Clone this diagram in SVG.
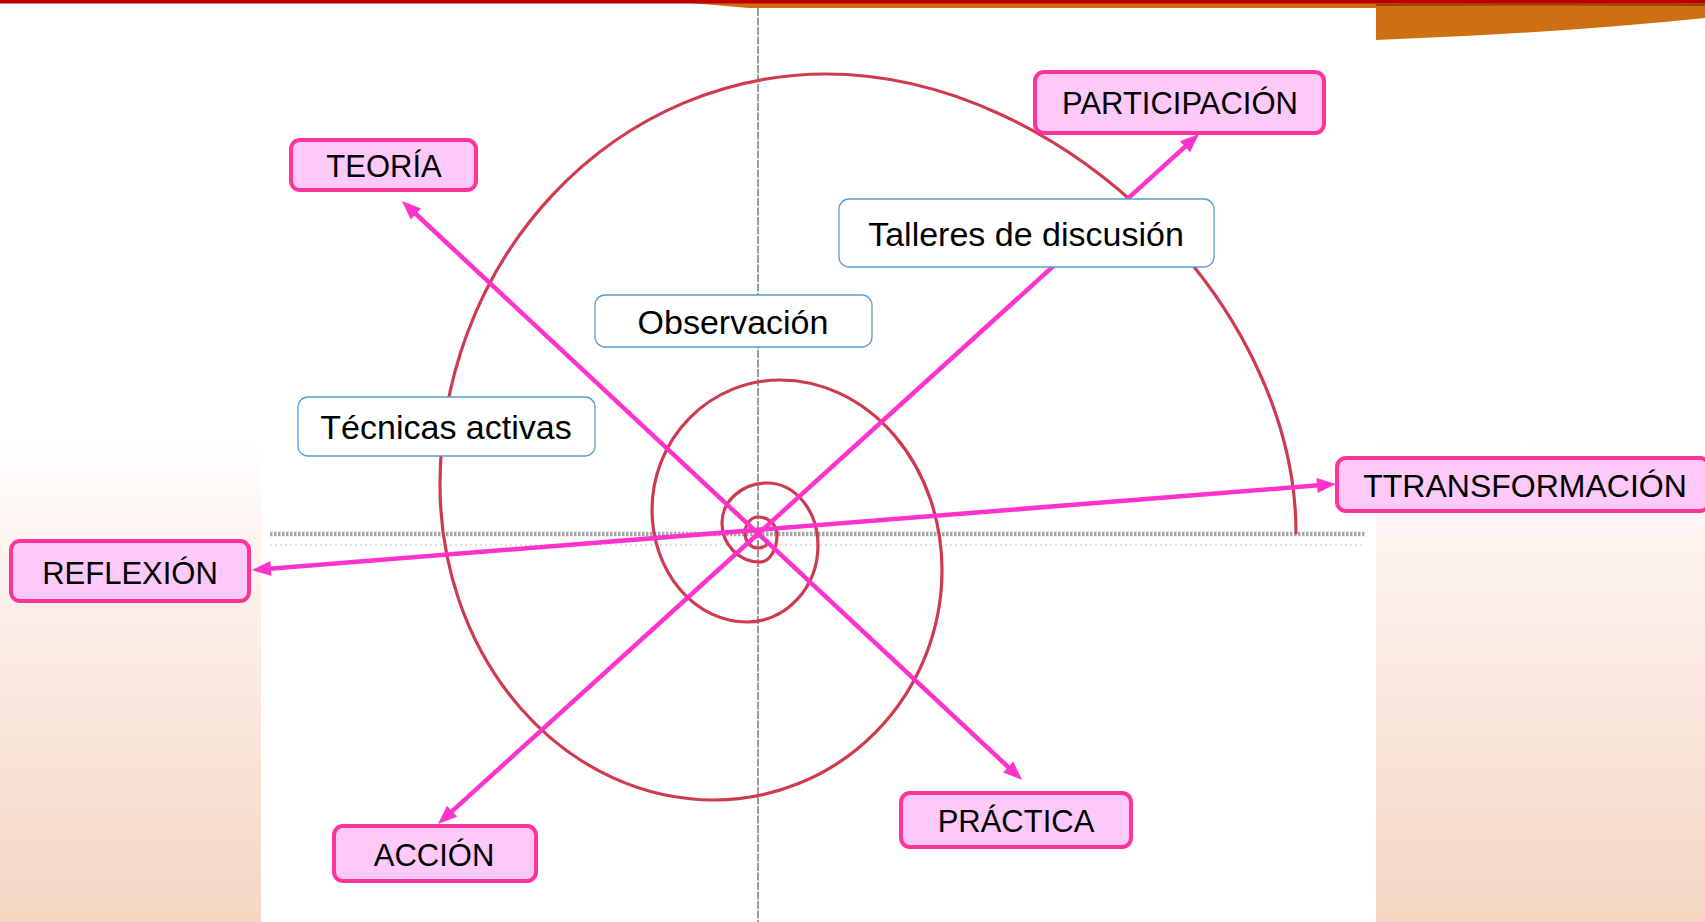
<svg xmlns="http://www.w3.org/2000/svg" width="1705" height="922" viewBox="0 0 1705 922">
<defs>
<linearGradient id="bg" x1="0" y1="0" x2="0" y2="1">
<stop offset="0" stop-color="#ffffff"/>
<stop offset="0.48" stop-color="#ffffff"/>
<stop offset="0.6" stop-color="#fdf3ee"/>
<stop offset="1" stop-color="#f5d6c4"/>
</linearGradient>
<marker id="ah" markerUnits="userSpaceOnUse" markerWidth="30" markerHeight="30" viewBox="-15 -15 30 30" refX="0" refY="0" orient="auto-start-reverse">
<path d="M8,0 L-11,-7.5 L-11,7.5 Z" fill="#ff33cc"/>
</marker>
<style>
.pk rect{fill:#fdc9f9;stroke:#ff3399;stroke-width:4}
.wb rect{fill:#ffffff;stroke:#5b9bd5;stroke-width:1.3}
text{font-family:"Liberation Sans",Arial,sans-serif;fill:#000;text-anchor:middle}
.pk text{font-size:31px}
.wb text{font-size:34px}
.cn{stroke:#ff33cc;stroke-width:4.5;fill:none;marker-start:url(#ah);marker-end:url(#ah)}
</style>
</defs>
<g id="background">
<rect x="0" y="0" width="1705" height="922" fill="url(#bg)"/>
<path d="M690,3 L1705,3 L1705,18 Q1560,33 1376,40 Q1000,30 690,3 Z" fill="#cf6f12"/>
<path d="M1376,5 Q1540,4 1705,5" stroke="#6b2a00" stroke-width="2" fill="none" opacity="0.6"/>
<rect x="0" y="0" width="1705" height="3.5" fill="#c00000"/>
<rect x="261" y="8" width="1115" height="914" fill="#ffffff"/>
</g>
<g id="axes">
<line x1="270" y1="545" x2="1365" y2="545" stroke="#e2e2e2" stroke-width="2" stroke-dasharray="2 3"/>
<line x1="270" y1="534" x2="1365" y2="534" stroke="#a8a8a8" stroke-width="4.5" stroke-dasharray="2.5 1.5"/>
<line x1="758" y1="8" x2="758" y2="922" stroke="#9a9a9a" stroke-width="2" stroke-dasharray="8 1.5"/>
</g>
<g id="spiral">
<path fill="none" stroke="#cf3a4e" stroke-width="3.2" stroke-linecap="round" d="M1296,533 C1296,303.5 1061,74 826,74 A386,411 0 0 0 440,485 A274,315 0 0 0 714,800 A228,230 0 0 0 942,570 A162,190 0 0 0 780,380 A128,130 0 0 0 652,510 A95,112 0 0 0 747,622 A71,77 0 0 0 818,545 A51,62 0 0 0 767,483 A45,40 0 0 0 722,523 A38,39 0 0 0 760,562 A17,27 0 0 0 777,535 A19,18 0 0 0 758,517 A13,16 0 0 0 745,533 A13,15 0 0 0 758,548 A10,7 0 0 0 768,541"/>
</g>
<g id="connectors">
<line class="cn" x1="407.8" y1="206.5" x2="1016.2" y2="774.5"/>
<line class="cn" x1="443.9" y1="818.6" x2="1193.1" y2="139.4"/>
<line class="cn" x1="260" y1="569.4" x2="1328" y2="484.6"/>
</g>
<g id="participacion" class="pk"><rect x="1035" y="72" width="289" height="61" rx="9"/><text x="1180" y="114">PARTICIPACIÓN</text></g>
<g id="teoria" class="pk"><rect x="291" y="140" width="185" height="50" rx="9"/><text x="384" y="177">TEORÍA</text></g>
<g id="transformacion" class="pk"><rect x="1337" y="458" width="372" height="53" rx="9"/><text x="1525" y="497" style="font-size:32px">TTRANSFORMACIÓN</text></g>
<g id="reflexion" class="pk"><rect x="11" y="541" width="238" height="60" rx="9"/><text x="130" y="584">REFLEXIÓN</text></g>
<g id="accion" class="pk"><rect x="334" y="826" width="202" height="55" rx="9"/><text x="434" y="866">ACCIÓN</text></g>
<g id="practica" class="pk"><rect x="901" y="793" width="230" height="54" rx="9"/><text x="1016" y="832">PRÁCTICA</text></g>
<g id="talleres" class="wb"><rect x="839" y="199" width="375" height="68" rx="10"/><text x="1026" y="246">Talleres de discusión</text></g>
<g id="observacion" class="wb"><rect x="595" y="295" width="277" height="52" rx="10"/><text x="733" y="334">Observación</text></g>
<g id="tecnicas" class="wb"><rect x="298" y="397" width="297" height="59" rx="10"/><text x="446" y="439">Técnicas activas</text></g>
</svg>
